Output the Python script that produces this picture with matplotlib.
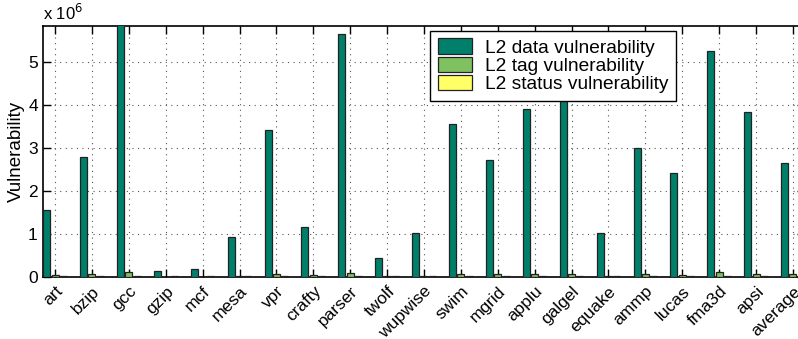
import matplotlib.pyplot as plt
import numpy as np

plt.rcParams['font.family'] = ['Liberation Sans', 'DejaVu Sans']

benchmarks = ['art', 'bzip', 'gcc', 'gzip', 'mcf', 'mesa', 'vpr', 'crafty', 'parser', 'twolf',
              'wupwise', 'swim', 'mgrid', 'applu', 'galgel', 'equake', 'ammp', 'lucas', 'fma3d',
              'apsi', 'average']
# vulnerability values, in units of 10^6
data_vuln = [1.55, 2.78, 6.20, 0.14, 0.17, 0.93, 3.42, 1.15, 5.65, 0.43,
             1.01, 3.56, 2.73, 3.90, 4.20, 1.02, 3.00, 2.41, 5.25,
             3.83, 2.65]
tag_vuln = [0.04, 0.05, 0.10, 0.00, 0.00, 0.01, 0.06, 0.03, 0.09, 0.01,
            0.02, 0.07, 0.05, 0.07, 0.07, 0.02, 0.05, 0.04, 0.10,
            0.07, 0.05]
status_vuln = [0.015, 0.015, 0.02, 0.005, 0.01, 0.005, 0.02, 0.01, 0.02, 0.005,
               0.01, 0.02, 0.015, 0.02, 0.02, 0.005, 0.015, 0.01, 0.02,
               0.02, 0.015]
series_names = ['L2 data vulnerability', 'L2 tag vulnerability', 'L2 status vulnerability']
colors = ['#00806a', '#7fc060', '#ffff66']

x = np.arange(len(benchmarks))
w = 0.19
off = 0.225

fig = plt.figure(figsize=(7.98, 3.39), dpi=100)
ax = fig.add_axes([0.0543, 0.184, 0.954, 0.740])

for i, vals in enumerate([data_vuln, tag_vuln, status_vuln]):
    ax.bar(x + (i - 1) * off, np.array(vals) * 1e6, width=w, color=colors[i],
           edgecolor='#222222', linewidth=0.9, label=series_names[i], zorder=3)

ax.set_xlim(-0.317, len(benchmarks) - 1 + 0.317)
ax.set_ylim(0, 5.85e6)
ax.set_xticks(x)
ax.set_xticklabels(benchmarks, rotation=45, ha='right', rotation_mode='anchor', fontsize=12.5)
ax.set_yticks(np.arange(0, 6) * 1e6)
ax.set_yticklabels([str(v) for v in range(6)], fontsize=12.5)
ax.tick_params(direction='in', length=6, width=1, top=True, right=True, pad=4)
ax.tick_params(axis='x', pad=5)
ax.grid(True, linestyle=(0, (1, 4)), color='#555555', linewidth=0.8, zorder=0)
ax.set_axisbelow(True)
for s in ax.spines.values():
    s.set_linewidth(1.2)
ax.set_ylabel('Vulnerability', fontsize=13.5, labelpad=2)
ax.text(0.0, 1.012, r'x 10$^{6}$', transform=ax.transAxes, fontsize=12, ha='left', va='bottom')

leg = ax.legend(loc='upper right', bbox_to_anchor=(0.831, 0.98), fontsize=13.8, fancybox=False,
                framealpha=1, edgecolor='black', handlelength=1.8, handleheight=0.85,
                borderpad=0.4, labelspacing=0.0, handletextpad=0.65, borderaxespad=0)
leg.get_frame().set_linewidth(1.0)
leg._legend_box.sep = 0
for p in leg.get_patches():
    p.set_linewidth(0.9)

fig.savefig('out.png', dpi=100)
